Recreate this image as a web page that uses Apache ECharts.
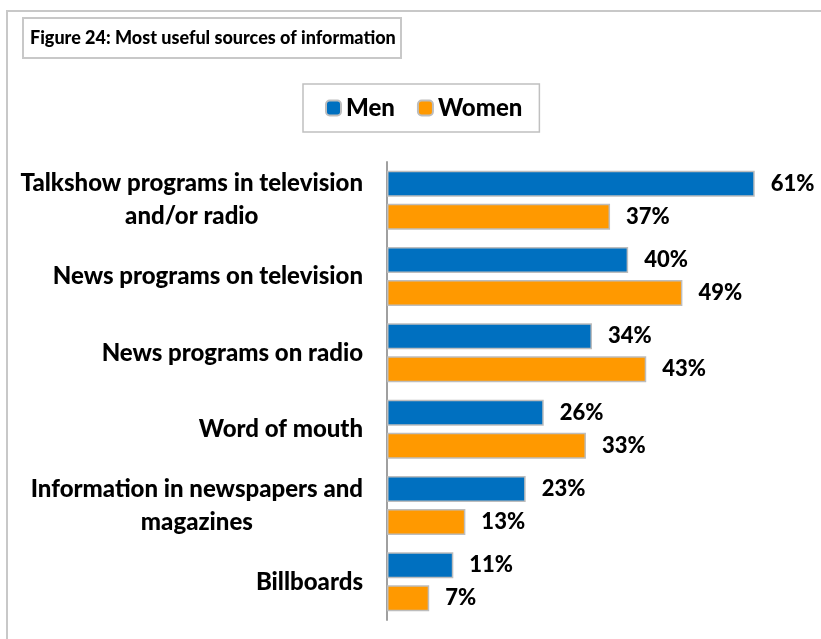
<!DOCTYPE html>
<html>
<head>
<meta charset="utf-8">
<title>Most useful sources of information</title>
<script src="https://cdn.jsdelivr.net/npm/echarts@6/dist/echarts.min.js"></script>
<style>
  html, body { margin: 0; padding: 0; background: #fff; }
  #chart { width: 821px; height: 639px; }
</style>
</head>
<body>
<div id="chart"></div>
<script>
// Sources, listed top to bottom
const categories = [
  'Talkshow programs in television\nand/or radio',
  'News programs on television',
  'News programs on radio',
  'Word of mouth',
  'Information in newspapers and\nmagazines',
  'Billboards'
];
const menValues = [61, 40, 34, 26, 23, 11];
const womenValues = [37, 49, 43, 33, 13, 7];
const seriesNames = ['Men', 'Women'];

const FONT = 'Lato, "Open Sans", sans-serif';
const WEIGHT = 900;
const chart = echarts.init(document.getElementById('chart'));

const labelStyle = {
  show: true,
  position: 'right',
  distance: 16,
  formatter: '{c}%',
  color: '#000',
  fontFamily: FONT,
  fontWeight: WEIGHT,
  fontSize: 22
};

chart.setOption({
  animation: false,
  backgroundColor: '#fff',
  title: {
    text: 'Figure 24: Most useful sources of information',
    left: 23,
    top: 18,
    padding: [11, 5, 11, 7],
    borderColor: '#c8c8c8',
    borderWidth: 2,
    textStyle: { fontFamily: FONT, fontWeight: WEIGHT, fontSize: 18, color: '#000' }
  },
  legend: {
    data: seriesNames,
    left: 303,
    top: 84,
    padding: [12, 17, 12, 22],
    borderColor: '#c0c0c0',
    borderWidth: 1.5,
    itemWidth: 15,
    itemHeight: 15,
    itemGap: 22,
    textStyle: { fontFamily: FONT, fontWeight: WEIGHT, fontSize: 24, color: '#000' }
  },
  graphic: [{
    type: 'rect',
    shape: { x: 7, y: 11, width: 830, height: 650 },
    style: { fill: 'none', stroke: '#c8c8c8', lineWidth: 2 },
    silent: true
  }],
  grid: { left: 387, right: 12, top: 162, bottom: 19 },
  xAxis: {
    type: 'value',
    min: 0,
    max: 70,
    show: false
  },
  yAxis: {
    type: 'category',
    inverse: true,
    data: categories,
    axisLine: { show: true, lineStyle: { color: '#a0a0a0', width: 2 } },
    axisTick: { show: false },
    splitLine: { show: false },
    axisLabel: {
      margin: 24,
      align: 'right',
      formatter: function (v) {
        return v.split('\n').map(function (s) { return '{c|' + s + '}'; }).join('\n');
      },
      rich: {
        c: {
          align: 'center',
          fontFamily: FONT,
          fontWeight: WEIGHT,
          fontSize: 24,
          lineHeight: 33,
          color: '#000'
        }
      }
    }
  },
  series: [
    {
      name: seriesNames[0],
      type: 'bar',
      data: menValues,
      barWidth: 26,
      barGap: '27%',
      itemStyle: { color: '#0070C0', borderColor: '#bdbdbd', borderWidth: 1.5 },
      label: labelStyle
    },
    {
      name: seriesNames[1],
      type: 'bar',
      data: womenValues,
      barWidth: 26,
      itemStyle: { color: '#FF9900', borderColor: '#bdbdbd', borderWidth: 1.5 },
      label: labelStyle
    }
  ]
});
</script>
</body>
</html>
